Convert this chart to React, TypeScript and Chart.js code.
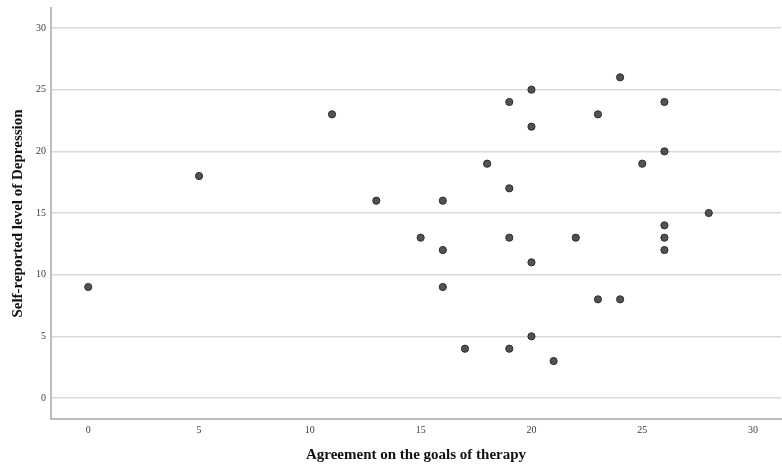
import React, { useEffect, useRef } from "react";
import { Chart, registerables } from "chart.js";

Chart.register(...registerables);

// Agreement on the goals of therapy (x) vs. self-reported depression (y)
const agreement = [0, 5, 11, 13, 15, 16, 16, 16, 17, 18, 19, 19, 19, 19, 20, 20, 20, 20, 21, 22, 23, 23, 24, 24, 25, 26, 26, 26, 26, 26, 28];
const depression = [9, 18, 23, 16, 13, 16, 12, 9, 4, 19, 24, 17, 13, 4, 25, 22, 11, 5, 3, 13, 23, 8, 26, 8, 19, 24, 20, 14, 13, 12, 15];

const xTicks = [0, 5, 10, 15, 20, 25, 30];
const yTicks = [0, 5, 10, 15, 20, 25, 30];

const xTitle = "Agreement on the goals of therapy";
const yTitle = "Self-reported level of Depression";

const SERIF = '"Liberation Serif", "Times New Roman", Times, serif';

// Fixed axis box sizes; label overflow padding is not needed here.
const fixSize = (dim: "width" | "height", size: number) => (scale: any) => {
  scale[dim] = size;
  scale.paddingTop = 0;
  scale.paddingBottom = 0;
  scale.paddingLeft = 0;
  scale.paddingRight = 0;
};

export default function App() {
  const canvasRef = useRef<HTMLCanvasElement | null>(null);

  useEffect(() => {
    document.body.style.margin = "0";
    const canvas = canvasRef.current;
    if (!canvas) return;
    const points = agreement.map((x, i) => ({ x, y: depression[i] }));

    const chart = new Chart(canvas, {
      type: "scatter",
      data: {
        datasets: [
          {
            data: points,
            pointRadius: 3.6,
            pointHoverRadius: 3.6,
            pointBackgroundColor: "#4e5451",
            pointBorderColor: "#2b2f2d",
            pointBorderWidth: 1,
          },
        ],
      },
      options: {
        animation: false,
        responsive: false,
        maintainAspectRatio: false,
        layout: { autoPadding: false, padding: { top: 8, right: 1, left: 0, bottom: 0 } },
        plugins: { legend: { display: false }, tooltip: { enabled: false } },
        scales: {
          x: {
            type: "linear",
            min: -1.68,
            max: 31.26,
            afterBuildTicks: (scale: any) => {
              scale.ticks = xTicks.map((v) => ({ value: v }));
            },
            afterFit: fixSize("height", 51),
            grid: { display: false, drawTicks: false },
            border: { display: true, color: "#bdbdbd", width: 2 },
            ticks: {
              padding: 5,
              color: "#3a3a3a",
              font: { family: SERIF, size: 10 },
              callback: (v: any) => String(v),
            },
            title: {
              display: true,
              text: xTitle,
              color: "#111",
              font: { family: SERIF, size: 15, weight: "bold" },
              padding: { top: 0, bottom: 6 },
            },
          },
          y: {
            type: "linear",
            min: -1.7,
            max: 31.62,
            afterBuildTicks: (scale: any) => {
              scale.ticks = yTicks.map((v) => ({ value: v }));
            },
            afterFit: fixSize("width", 51),
            grid: { display: true, drawTicks: false, color: "#d9d9d9", lineWidth: 1.5 },
            border: { display: true, color: "#bdbdbd", width: 2 },
            ticks: {
              padding: 5,
              color: "#3a3a3a",
              font: { family: SERIF, size: 10 },
              callback: (v: any) => String(v),
            },
            title: {
              display: true,
              text: yTitle,
              color: "#111",
              font: { family: SERIF, size: 15, weight: "bold" },
              padding: { top: 9, bottom: 0 },
            },
          },
        },
      },
    });
    return () => chart.destroy();
  }, []);

  return (
    <div style={{ width: 782, height: 470, position: "relative", background: "#fff" }}>
      <canvas ref={canvasRef} width={782} height={470} style={{ display: "block" }} />
    </div>
  );
}
